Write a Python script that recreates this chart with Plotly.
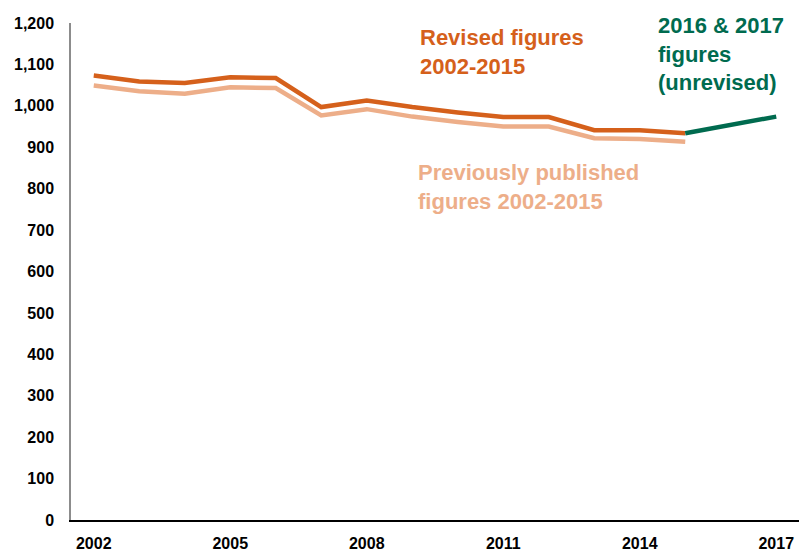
import plotly.graph_objects as go

years = list(range(2002, 2016))
revised = [1073, 1059, 1055, 1069, 1067, 997, 1013, 997, 984, 973, 973, 941, 941, 934]
previous = [1049, 1035, 1029, 1045, 1043, 977, 992, 974, 961, 950, 950, 922, 920, 913]
unrev_years = [2015, 2016, 2017]
unrevised = [934, 954, 974]
xtick_years = [2002, 2005, 2008, 2011, 2014, 2017]

C_REV = "#D5601B"
C_PREV = "#EDAE89"
C_GREEN = "#006B4F"
FONT = "Liberation Sans, Arial, sans-serif"

fig = go.Figure()
fig.add_trace(go.Scatter(x=years, y=previous, mode="lines",
                         line=dict(color=C_PREV, width=4.5), hoverinfo="skip"))
fig.add_trace(go.Scatter(x=years, y=revised, mode="lines",
                         line=dict(color=C_REV, width=4.5), hoverinfo="skip"))
fig.add_trace(go.Scatter(x=unrev_years, y=unrevised, mode="lines",
                         line=dict(color=C_GREEN, width=4.5), hoverinfo="skip"))

L, T, W, H = 71, 23, 728, 497

def px(xp):
    return (xp - L) / W

def py(yp):
    return (T + H - yp) / H

ann_font = dict(family=FONT, size=22)
fig.add_annotation(text="<b>Revised figures<br>2002-2015</b>", xref="paper", yref="paper",
                   x=px(418), y=py(23), xanchor="left", yanchor="top", showarrow=False,
                   align="left", font=dict(color=C_REV, **ann_font))
fig.add_annotation(text="<b>2016 & 2017<br>figures<br>(unrevised)</b>", xref="paper", yref="paper",
                   x=px(656), y=py(11), xanchor="left", yanchor="top", showarrow=False,
                   align="left", font=dict(color=C_GREEN, **ann_font))
fig.add_annotation(text="<b>Previously published<br>figures 2002-2015</b>", xref="paper", yref="paper",
                   x=px(416), y=py(158), xanchor="left", yanchor="top", showarrow=False,
                   align="left", font=dict(color=C_PREV, **ann_font))

fig.update_layout(
    width=799, height=551,
    margin=dict(l=L, r=799 - L - W, t=T, b=551 - T - H),
    paper_bgcolor="white", plot_bgcolor="white",
    showlegend=False,
    font=dict(family=FONT, size=16, color="#000000"),
)
fig.update_xaxes(range=[2001.5, 2017.5], tickvals=xtick_years,
                 ticktext=[f"<b>{y}</b>" for y in xtick_years],
                 showgrid=False, zeroline=False, showline=True, linecolor="#000000", linewidth=1.5,
                 ticks="outside", ticklen=8, tickcolor="rgba(0,0,0,0)", automargin=False,
                 tickfont=dict(size=16, family=FONT))
yt = list(range(0, 1300, 100))
fig.update_yaxes(range=[0, 1200], tickvals=yt,
                 ticktext=[f"<b>{v:,}</b>" for v in yt],
                 showgrid=False, zeroline=False, showline=True, linecolor="#8C8C8C", linewidth=1.5,
                 ticks="outside", ticklen=12, tickcolor="rgba(0,0,0,0)", automargin=False,
                 tickfont=dict(size=16, family=FONT))

fig.write_html("out.html", config={"displayModeBar": False},
               post_script="document.body.style.margin='0';document.body.style.overflow='hidden';")
